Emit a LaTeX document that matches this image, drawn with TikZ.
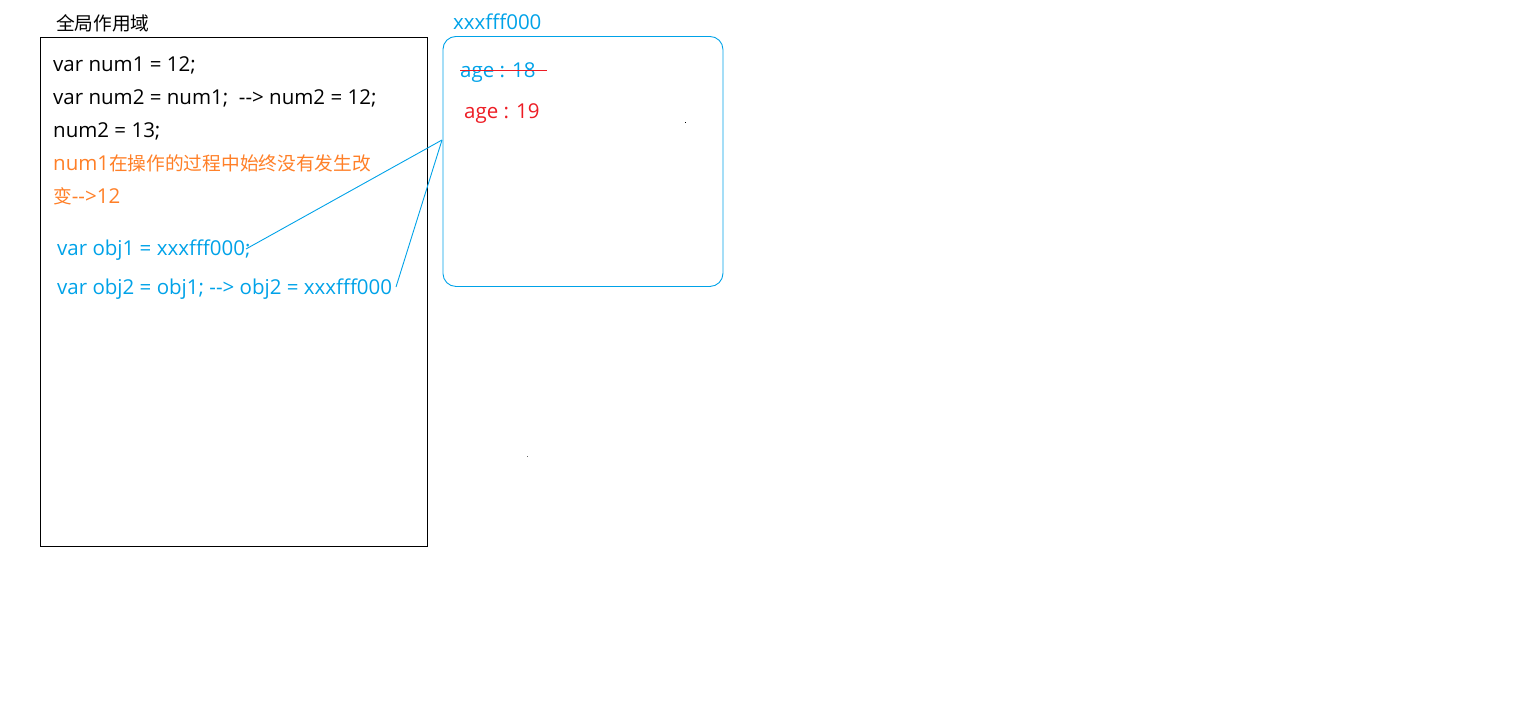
\documentclass[tikz,border=0pt]{standalone}
\usepackage{fontspec}
\setmainfont[Ligatures=TeXOff]{Open Sans}
\newfontfamily\cjk[Scale=0.912]{Noto Sans CJK SC}
\definecolor{pblue}{RGB}{0,162,232}
\definecolor{porange}{RGB}{255,127,39}
\definecolor{pred}{RGB}{237,28,36}
\begin{document}
\begin{tikzpicture}[x=1pt,y=-1pt,
  txt/.style={anchor=base west,inner sep=0pt,font=\fontsize{20.5}{24}\selectfont},
  conn/.style={draw=pblue,line width=0.9pt}]
\useasboundingbox (0,0) rectangle (1540,718);
% global scope box
\node[draw=black,line width=0.9pt,minimum width=387pt,minimum height=509pt,inner sep=0pt,anchor=north west] (scope) at (40,36.5) {};
\node[txt] (title) at (56,30) {\cjk 全局作用域};
\node[txt] (l1) at (53,71) {var num1 = 12;};
\node[txt] (l2) at (53,104) {var num2 = num1;\ \ --> num2 = 12;};
\node[txt] (l3) at (53,137) {num2 = 13;};
\node[txt,text=porange] (l4) at (53,170) {num1{\cjk 在操作的过程中始终没有发生改}};
\node[txt,text=porange] (l5) at (53,203) {{\cjk 变}-->12};
\node[txt,text=pblue] (obj1) at (57,255) {var obj1 = xxxfff000;};
\node[txt,text=pblue] (obj2) at (57,294) {var obj2 = obj1; --> obj2 = xxxfff000};
% heap box
\node[draw=pblue,line width=0.9pt,rounded corners=13pt,minimum width=280pt,minimum height=250pt,inner sep=0pt,anchor=north west] (heap) at (442.5,36) {};
\node[txt,text=pblue] (addr) at (453,29) {xxxfff000};
\node[txt,text=pblue] (age18) at (460,77) {age : 18};
\node[txt,text=pred] (age19) at (464,118) {age : 19};
\coordinate (s1) at (460,70.5);
\coordinate (s2) at (547,70.5);
\draw[pred,line width=1pt] (s1) -- (s2);
% connectors
\coordinate (c1) at (246,249);
\coordinate (c2) at (396,287);
\coordinate (tip) at (442,140);
\draw[conn] (c1) -- (tip);
\draw[conn] (c2) -- (tip);
% tiny specks
\fill[black] (684.5,121.5) rectangle (686,123);
\fill[black!60] (526.5,455.5) rectangle (528,457);
\end{tikzpicture}
\end{document}
